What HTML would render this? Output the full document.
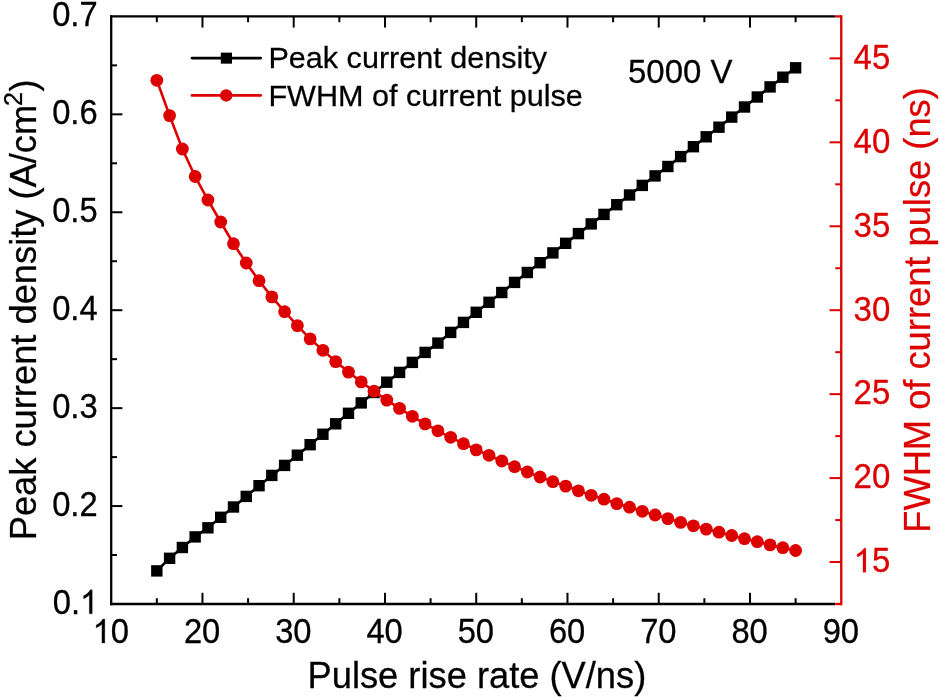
<!DOCTYPE html>
<html><head><meta charset="utf-8"><title>chart</title>
<style>html,body{margin:0;padding:0;background:#fff;}svg{display:block;will-change:transform;}text{font-kerning:none;}</style>
</head><body>
<svg width="940" height="697" viewBox="0 0 940 697">
<rect width="940" height="697" fill="#ffffff"/>
<polyline points="156.83,570.90 169.60,558.30 182.38,547.50 195.16,536.90 207.93,527.80 220.71,517.30 233.48,507.00 246.26,496.40 259.04,485.70 271.81,475.40 284.59,465.40 297.36,455.20 310.14,444.70 322.91,434.25 335.69,423.80 348.47,413.30 361.24,402.90 374.02,392.50 386.79,382.20 399.57,372.40 412.35,362.40 425.12,352.40 437.90,343.10 450.67,332.40 463.45,322.40 476.22,312.30 489.00,302.30 501.78,292.50 514.55,282.40 527.33,272.50 540.10,262.70 552.88,252.90 565.66,243.30 578.43,233.60 591.21,223.90 603.98,214.40 616.76,204.70 629.54,195.00 642.31,185.40 655.09,175.90 667.86,166.50 680.64,156.60 693.41,146.70 706.19,136.80 718.97,127.20 731.74,117.10 744.52,107.00 757.29,97.00 770.07,86.90 782.85,77.20 795.62,67.80" fill="none" stroke="#000000" stroke-width="2.6"/>
<rect x="151.13" y="565.20" width="11.4" height="11.4" fill="#000000"/>
<rect x="163.90" y="552.60" width="11.4" height="11.4" fill="#000000"/>
<rect x="176.68" y="541.80" width="11.4" height="11.4" fill="#000000"/>
<rect x="189.46" y="531.20" width="11.4" height="11.4" fill="#000000"/>
<rect x="202.23" y="522.10" width="11.4" height="11.4" fill="#000000"/>
<rect x="215.01" y="511.60" width="11.4" height="11.4" fill="#000000"/>
<rect x="227.78" y="501.30" width="11.4" height="11.4" fill="#000000"/>
<rect x="240.56" y="490.70" width="11.4" height="11.4" fill="#000000"/>
<rect x="253.34" y="480.00" width="11.4" height="11.4" fill="#000000"/>
<rect x="266.11" y="469.70" width="11.4" height="11.4" fill="#000000"/>
<rect x="278.89" y="459.70" width="11.4" height="11.4" fill="#000000"/>
<rect x="291.66" y="449.50" width="11.4" height="11.4" fill="#000000"/>
<rect x="304.44" y="439.00" width="11.4" height="11.4" fill="#000000"/>
<rect x="317.21" y="428.55" width="11.4" height="11.4" fill="#000000"/>
<rect x="329.99" y="418.10" width="11.4" height="11.4" fill="#000000"/>
<rect x="342.77" y="407.60" width="11.4" height="11.4" fill="#000000"/>
<rect x="355.54" y="397.20" width="11.4" height="11.4" fill="#000000"/>
<rect x="368.32" y="386.80" width="11.4" height="11.4" fill="#000000"/>
<rect x="381.09" y="376.50" width="11.4" height="11.4" fill="#000000"/>
<rect x="393.87" y="366.70" width="11.4" height="11.4" fill="#000000"/>
<rect x="406.65" y="356.70" width="11.4" height="11.4" fill="#000000"/>
<rect x="419.42" y="346.70" width="11.4" height="11.4" fill="#000000"/>
<rect x="432.20" y="337.40" width="11.4" height="11.4" fill="#000000"/>
<rect x="444.97" y="326.70" width="11.4" height="11.4" fill="#000000"/>
<rect x="457.75" y="316.70" width="11.4" height="11.4" fill="#000000"/>
<rect x="470.52" y="306.60" width="11.4" height="11.4" fill="#000000"/>
<rect x="483.30" y="296.60" width="11.4" height="11.4" fill="#000000"/>
<rect x="496.08" y="286.80" width="11.4" height="11.4" fill="#000000"/>
<rect x="508.85" y="276.70" width="11.4" height="11.4" fill="#000000"/>
<rect x="521.63" y="266.80" width="11.4" height="11.4" fill="#000000"/>
<rect x="534.40" y="257.00" width="11.4" height="11.4" fill="#000000"/>
<rect x="547.18" y="247.20" width="11.4" height="11.4" fill="#000000"/>
<rect x="559.96" y="237.60" width="11.4" height="11.4" fill="#000000"/>
<rect x="572.73" y="227.90" width="11.4" height="11.4" fill="#000000"/>
<rect x="585.51" y="218.20" width="11.4" height="11.4" fill="#000000"/>
<rect x="598.28" y="208.70" width="11.4" height="11.4" fill="#000000"/>
<rect x="611.06" y="199.00" width="11.4" height="11.4" fill="#000000"/>
<rect x="623.84" y="189.30" width="11.4" height="11.4" fill="#000000"/>
<rect x="636.61" y="179.70" width="11.4" height="11.4" fill="#000000"/>
<rect x="649.39" y="170.20" width="11.4" height="11.4" fill="#000000"/>
<rect x="662.16" y="160.80" width="11.4" height="11.4" fill="#000000"/>
<rect x="674.94" y="150.90" width="11.4" height="11.4" fill="#000000"/>
<rect x="687.71" y="141.00" width="11.4" height="11.4" fill="#000000"/>
<rect x="700.49" y="131.10" width="11.4" height="11.4" fill="#000000"/>
<rect x="713.27" y="121.50" width="11.4" height="11.4" fill="#000000"/>
<rect x="726.04" y="111.40" width="11.4" height="11.4" fill="#000000"/>
<rect x="738.82" y="101.30" width="11.4" height="11.4" fill="#000000"/>
<rect x="751.59" y="91.30" width="11.4" height="11.4" fill="#000000"/>
<rect x="764.37" y="81.20" width="11.4" height="11.4" fill="#000000"/>
<rect x="777.15" y="71.50" width="11.4" height="11.4" fill="#000000"/>
<rect x="789.92" y="62.10" width="11.4" height="11.4" fill="#000000"/>
<polyline points="156.83,80.30 169.60,115.60 182.38,149.00 195.16,176.50 207.93,200.00 220.71,222.00 233.48,243.70 246.26,263.00 259.04,280.70 271.81,296.90 284.59,311.70 297.36,325.60 310.14,338.90 322.91,350.30 335.69,361.60 348.47,372.10 361.24,381.90 374.02,391.20 386.79,400.10 399.57,408.40 412.35,416.30 425.12,423.90 437.90,430.80 450.67,437.30 463.45,443.70 476.22,449.90 489.00,455.30 501.78,461.00 514.55,466.70 527.33,472.00 540.10,477.00 552.88,481.70 565.66,486.10 578.43,490.80 591.21,495.30 603.98,499.20 616.76,503.60 629.54,507.20 642.31,511.30 655.09,515.00 667.86,518.60 680.64,522.40 693.41,525.80 706.19,529.10 718.97,532.20 731.74,535.50 744.52,538.70 757.29,541.70 770.07,544.90 782.85,547.70 795.62,550.50" fill="none" stroke="#dc0000" stroke-width="2.6"/>
<circle cx="156.83" cy="80.30" r="6.4" fill="#dc0000"/>
<circle cx="169.60" cy="115.60" r="6.4" fill="#dc0000"/>
<circle cx="182.38" cy="149.00" r="6.4" fill="#dc0000"/>
<circle cx="195.16" cy="176.50" r="6.4" fill="#dc0000"/>
<circle cx="207.93" cy="200.00" r="6.4" fill="#dc0000"/>
<circle cx="220.71" cy="222.00" r="6.4" fill="#dc0000"/>
<circle cx="233.48" cy="243.70" r="6.4" fill="#dc0000"/>
<circle cx="246.26" cy="263.00" r="6.4" fill="#dc0000"/>
<circle cx="259.04" cy="280.70" r="6.4" fill="#dc0000"/>
<circle cx="271.81" cy="296.90" r="6.4" fill="#dc0000"/>
<circle cx="284.59" cy="311.70" r="6.4" fill="#dc0000"/>
<circle cx="297.36" cy="325.60" r="6.4" fill="#dc0000"/>
<circle cx="310.14" cy="338.90" r="6.4" fill="#dc0000"/>
<circle cx="322.91" cy="350.30" r="6.4" fill="#dc0000"/>
<circle cx="335.69" cy="361.60" r="6.4" fill="#dc0000"/>
<circle cx="348.47" cy="372.10" r="6.4" fill="#dc0000"/>
<circle cx="361.24" cy="381.90" r="6.4" fill="#dc0000"/>
<circle cx="374.02" cy="391.20" r="6.4" fill="#dc0000"/>
<circle cx="386.79" cy="400.10" r="6.4" fill="#dc0000"/>
<circle cx="399.57" cy="408.40" r="6.4" fill="#dc0000"/>
<circle cx="412.35" cy="416.30" r="6.4" fill="#dc0000"/>
<circle cx="425.12" cy="423.90" r="6.4" fill="#dc0000"/>
<circle cx="437.90" cy="430.80" r="6.4" fill="#dc0000"/>
<circle cx="450.67" cy="437.30" r="6.4" fill="#dc0000"/>
<circle cx="463.45" cy="443.70" r="6.4" fill="#dc0000"/>
<circle cx="476.22" cy="449.90" r="6.4" fill="#dc0000"/>
<circle cx="489.00" cy="455.30" r="6.4" fill="#dc0000"/>
<circle cx="501.78" cy="461.00" r="6.4" fill="#dc0000"/>
<circle cx="514.55" cy="466.70" r="6.4" fill="#dc0000"/>
<circle cx="527.33" cy="472.00" r="6.4" fill="#dc0000"/>
<circle cx="540.10" cy="477.00" r="6.4" fill="#dc0000"/>
<circle cx="552.88" cy="481.70" r="6.4" fill="#dc0000"/>
<circle cx="565.66" cy="486.10" r="6.4" fill="#dc0000"/>
<circle cx="578.43" cy="490.80" r="6.4" fill="#dc0000"/>
<circle cx="591.21" cy="495.30" r="6.4" fill="#dc0000"/>
<circle cx="603.98" cy="499.20" r="6.4" fill="#dc0000"/>
<circle cx="616.76" cy="503.60" r="6.4" fill="#dc0000"/>
<circle cx="629.54" cy="507.20" r="6.4" fill="#dc0000"/>
<circle cx="642.31" cy="511.30" r="6.4" fill="#dc0000"/>
<circle cx="655.09" cy="515.00" r="6.4" fill="#dc0000"/>
<circle cx="667.86" cy="518.60" r="6.4" fill="#dc0000"/>
<circle cx="680.64" cy="522.40" r="6.4" fill="#dc0000"/>
<circle cx="693.41" cy="525.80" r="6.4" fill="#dc0000"/>
<circle cx="706.19" cy="529.10" r="6.4" fill="#dc0000"/>
<circle cx="718.97" cy="532.20" r="6.4" fill="#dc0000"/>
<circle cx="731.74" cy="535.50" r="6.4" fill="#dc0000"/>
<circle cx="744.52" cy="538.70" r="6.4" fill="#dc0000"/>
<circle cx="757.29" cy="541.70" r="6.4" fill="#dc0000"/>
<circle cx="770.07" cy="544.90" r="6.4" fill="#dc0000"/>
<circle cx="782.85" cy="547.70" r="6.4" fill="#dc0000"/>
<circle cx="795.62" cy="550.50" r="6.4" fill="#dc0000"/>
<g stroke="#000000" stroke-width="2.3" fill="none" stroke-linecap="butt">
<path d="M111.2 605.15 V15.249999999999998"/>
<path d="M110.05 16.4 H835.25"/>
<path d="M110.05 604.0 H835.25"/>
</g>
<g stroke="#000000" stroke-width="2.0" fill="none" stroke-linecap="butt">
<path d="M156.83 604.0 v-5.8"/>
<path d="M156.83 16.4 v5.8"/>
<path d="M202.46 604.0 v-11.2"/>
<path d="M202.46 16.4 v11.2"/>
<path d="M248.08 604.0 v-5.8"/>
<path d="M248.08 16.4 v5.8"/>
<path d="M293.71 604.0 v-11.2"/>
<path d="M293.71 16.4 v11.2"/>
<path d="M339.34 604.0 v-5.8"/>
<path d="M339.34 16.4 v5.8"/>
<path d="M384.97 604.0 v-11.2"/>
<path d="M384.97 16.4 v11.2"/>
<path d="M430.60 604.0 v-5.8"/>
<path d="M430.60 16.4 v5.8"/>
<path d="M476.22 604.0 v-11.2"/>
<path d="M476.22 16.4 v11.2"/>
<path d="M521.85 604.0 v-5.8"/>
<path d="M521.85 16.4 v5.8"/>
<path d="M567.48 604.0 v-11.2"/>
<path d="M567.48 16.4 v11.2"/>
<path d="M613.11 604.0 v-5.8"/>
<path d="M613.11 16.4 v5.8"/>
<path d="M658.74 604.0 v-11.2"/>
<path d="M658.74 16.4 v11.2"/>
<path d="M704.37 604.0 v-5.8"/>
<path d="M704.37 16.4 v5.8"/>
<path d="M749.99 604.0 v-11.2"/>
<path d="M749.99 16.4 v11.2"/>
<path d="M795.62 604.0 v-5.8"/>
<path d="M795.62 16.4 v5.8"/>
<path d="M111.2 555.03 h5.8"/>
<path d="M111.2 506.07 h11.2"/>
<path d="M111.2 457.10 h5.8"/>
<path d="M111.2 408.13 h11.2"/>
<path d="M111.2 359.17 h5.8"/>
<path d="M111.2 310.20 h11.2"/>
<path d="M111.2 261.23 h5.8"/>
<path d="M111.2 212.27 h11.2"/>
<path d="M111.2 163.30 h5.8"/>
<path d="M111.2 114.33 h11.2"/>
<path d="M111.2 65.37 h5.8"/>
</g>
<path d="M841.25 605.15 V15.249999999999998" stroke="#dc0000" stroke-width="2.3" fill="none"/>
<g stroke="#dc0000" stroke-width="2.0" fill="none">
<path d="M841.25 604.00 h-6.0" stroke-width="2.3"/>
<path d="M841.25 562.03 h-11.7"/>
<path d="M841.25 520.06 h-6.0"/>
<path d="M841.25 478.09 h-11.7"/>
<path d="M841.25 436.11 h-6.0"/>
<path d="M841.25 394.14 h-11.7"/>
<path d="M841.25 352.17 h-6.0"/>
<path d="M841.25 310.20 h-11.7"/>
<path d="M841.25 268.23 h-6.0"/>
<path d="M841.25 226.26 h-11.7"/>
<path d="M841.25 184.29 h-6.0"/>
<path d="M841.25 142.31 h-11.7"/>
<path d="M841.25 100.34 h-6.0"/>
<path d="M841.25 58.37 h-11.7"/>
<path d="M841.25 16.40 h-6.0" stroke-width="2.3"/>
</g>
<path d="M763 0H583V1147Q518 1085 412.5 1023T223 930V1104Q373 1174 485 1275T644 1470H763Z" fill="#000000" stroke="#000000" stroke-width="16.9" transform="translate(92.62 643.00) scale(0.01597 -0.01629)"/>
<text font-family="Liberation Sans, sans-serif" font-size="32.7" fill="#000000" stroke="#000000" stroke-width="0.27" text-anchor="start" transform="translate(110.80 643.00) scale(1 1.06)">0</text>
<text font-family="Liberation Sans, sans-serif" font-size="32.7" fill="#000000" stroke="#000000" stroke-width="0.27" text-anchor="middle" transform="translate(202.06 643.00) scale(1 1.06)">20</text>
<text font-family="Liberation Sans, sans-serif" font-size="32.7" fill="#000000" stroke="#000000" stroke-width="0.27" text-anchor="middle" transform="translate(293.31 643.00) scale(1 1.06)">30</text>
<text font-family="Liberation Sans, sans-serif" font-size="32.7" fill="#000000" stroke="#000000" stroke-width="0.27" text-anchor="middle" transform="translate(384.57 643.00) scale(1 1.06)">40</text>
<text font-family="Liberation Sans, sans-serif" font-size="32.7" fill="#000000" stroke="#000000" stroke-width="0.27" text-anchor="middle" transform="translate(475.82 643.00) scale(1 1.06)">50</text>
<text font-family="Liberation Sans, sans-serif" font-size="32.7" fill="#000000" stroke="#000000" stroke-width="0.27" text-anchor="middle" transform="translate(567.08 643.00) scale(1 1.06)">60</text>
<text font-family="Liberation Sans, sans-serif" font-size="32.7" fill="#000000" stroke="#000000" stroke-width="0.27" text-anchor="middle" transform="translate(658.34 643.00) scale(1 1.06)">70</text>
<text font-family="Liberation Sans, sans-serif" font-size="32.7" fill="#000000" stroke="#000000" stroke-width="0.27" text-anchor="middle" transform="translate(749.59 643.00) scale(1 1.06)">80</text>
<text font-family="Liberation Sans, sans-serif" font-size="32.7" fill="#000000" stroke="#000000" stroke-width="0.27" text-anchor="middle" transform="translate(840.85 643.00) scale(1 1.06)">90</text>
<path d="M763 0H583V1147Q518 1085 412.5 1023T223 930V1104Q373 1174 485 1275T644 1470H763Z" fill="#000000" stroke="#000000" stroke-width="16.9" transform="translate(80.02 613.80) scale(0.01597 -0.01629)"/>
<text font-family="Liberation Sans, sans-serif" font-size="32.7" fill="#000000" stroke="#000000" stroke-width="0.27" text-anchor="end" transform="translate(80.02 613.80) scale(1 1.06)">0.</text>
<text font-family="Liberation Sans, sans-serif" font-size="32.7" fill="#000000" stroke="#000000" stroke-width="0.27" text-anchor="end" transform="translate(97.60 516.07) scale(1 1.06)">0.2</text>
<text font-family="Liberation Sans, sans-serif" font-size="32.7" fill="#000000" stroke="#000000" stroke-width="0.27" text-anchor="end" transform="translate(97.60 418.13) scale(1 1.06)">0.3</text>
<text font-family="Liberation Sans, sans-serif" font-size="32.7" fill="#000000" stroke="#000000" stroke-width="0.27" text-anchor="end" transform="translate(97.60 320.20) scale(1 1.06)">0.4</text>
<text font-family="Liberation Sans, sans-serif" font-size="32.7" fill="#000000" stroke="#000000" stroke-width="0.27" text-anchor="end" transform="translate(97.60 222.27) scale(1 1.06)">0.5</text>
<text font-family="Liberation Sans, sans-serif" font-size="32.7" fill="#000000" stroke="#000000" stroke-width="0.27" text-anchor="end" transform="translate(97.60 124.33) scale(1 1.06)">0.6</text>
<text font-family="Liberation Sans, sans-serif" font-size="32.7" fill="#000000" stroke="#000000" stroke-width="0.27" text-anchor="end" transform="translate(97.60 26.40) scale(1 1.06)">0.7</text>
<path d="M763 0H583V1147Q518 1085 412.5 1023T223 930V1104Q373 1174 485 1275T644 1470H763Z" fill="#dc0000" stroke="#dc0000" stroke-width="16.8" transform="translate(853.60 572.33) scale(0.01611 -0.01644)"/>
<text font-family="Liberation Sans, sans-serif" font-size="33.0" fill="#dc0000" stroke="#dc0000" stroke-width="0.27" text-anchor="start" transform="translate(871.95 572.33) scale(1 1.06)">5</text>
<text font-family="Liberation Sans, sans-serif" font-size="33.0" fill="#dc0000" stroke="#dc0000" stroke-width="0.27" text-anchor="start" transform="translate(853.60 488.39) scale(1 1.06)">20</text>
<text font-family="Liberation Sans, sans-serif" font-size="33.0" fill="#dc0000" stroke="#dc0000" stroke-width="0.27" text-anchor="start" transform="translate(853.60 404.44) scale(1 1.06)">25</text>
<text font-family="Liberation Sans, sans-serif" font-size="33.0" fill="#dc0000" stroke="#dc0000" stroke-width="0.27" text-anchor="start" transform="translate(853.60 320.50) scale(1 1.06)">30</text>
<text font-family="Liberation Sans, sans-serif" font-size="33.0" fill="#dc0000" stroke="#dc0000" stroke-width="0.27" text-anchor="start" transform="translate(853.60 236.56) scale(1 1.06)">35</text>
<text font-family="Liberation Sans, sans-serif" font-size="33.0" fill="#dc0000" stroke="#dc0000" stroke-width="0.27" text-anchor="start" transform="translate(853.60 152.61) scale(1 1.06)">40</text>
<text font-family="Liberation Sans, sans-serif" font-size="33.0" fill="#dc0000" stroke="#dc0000" stroke-width="0.27" text-anchor="start" transform="translate(853.60 68.67) scale(1 1.06)">45</text>
<text font-family="Liberation Sans, sans-serif" font-size="36.3" fill="#000000" stroke="#000000" stroke-width="0.27" text-anchor="middle" transform="translate(476.90 687.60) scale(1 1.012)">Pulse rise rate (V/ns)</text>
<text font-family="Liberation Sans, sans-serif" font-size="36.3" fill="#000000" stroke="#000000" stroke-width="0.27" text-anchor="middle" transform="translate(35.90 309.90) rotate(-90) scale(1 1.012)">Peak current density (A/cm<tspan font-size="25" dy="-14" dx="-1.3">2</tspan><tspan dy="14" dx="0.6">)</tspan></text>
<text font-family="Liberation Sans, sans-serif" font-size="36.3" fill="#dc0000" stroke="#dc0000" stroke-width="0.27" text-anchor="middle" transform="translate(929.70 310.00) rotate(-90) scale(1 1.012)">FWHM of current pulse (ns)</text>
<path d="M192 58.1 H260.7" stroke="#000000" stroke-width="2.7" stroke-linecap="round"/>
<rect x="220.8" y="52.65" width="11.2" height="11.0" fill="#000000"/>
<path d="M192 95.4 H260.7" stroke="#dc0000" stroke-width="2.7" stroke-linecap="round"/>
<circle cx="226.2" cy="95.4" r="6.25" fill="#dc0000"/>
<text font-family="Liberation Sans, sans-serif" font-size="30.6" fill="#000000" stroke="#000000" stroke-width="0.27" text-anchor="start" transform="translate(268.40 68.00) scale(1 0.965)">Peak current density</text>
<text font-family="Liberation Sans, sans-serif" font-size="30.6" fill="#000000" stroke="#000000" stroke-width="0.27" text-anchor="start" transform="translate(268.40 105.60) scale(1 0.965)">FWHM of current pulse</text>
<text font-family="Liberation Sans, sans-serif" font-size="33" fill="#000000" stroke="#000000" stroke-width="0.27" text-anchor="start" transform="translate(628.00 82.80) scale(1 1.015)">5000 V</text>
</svg>
</body></html>
